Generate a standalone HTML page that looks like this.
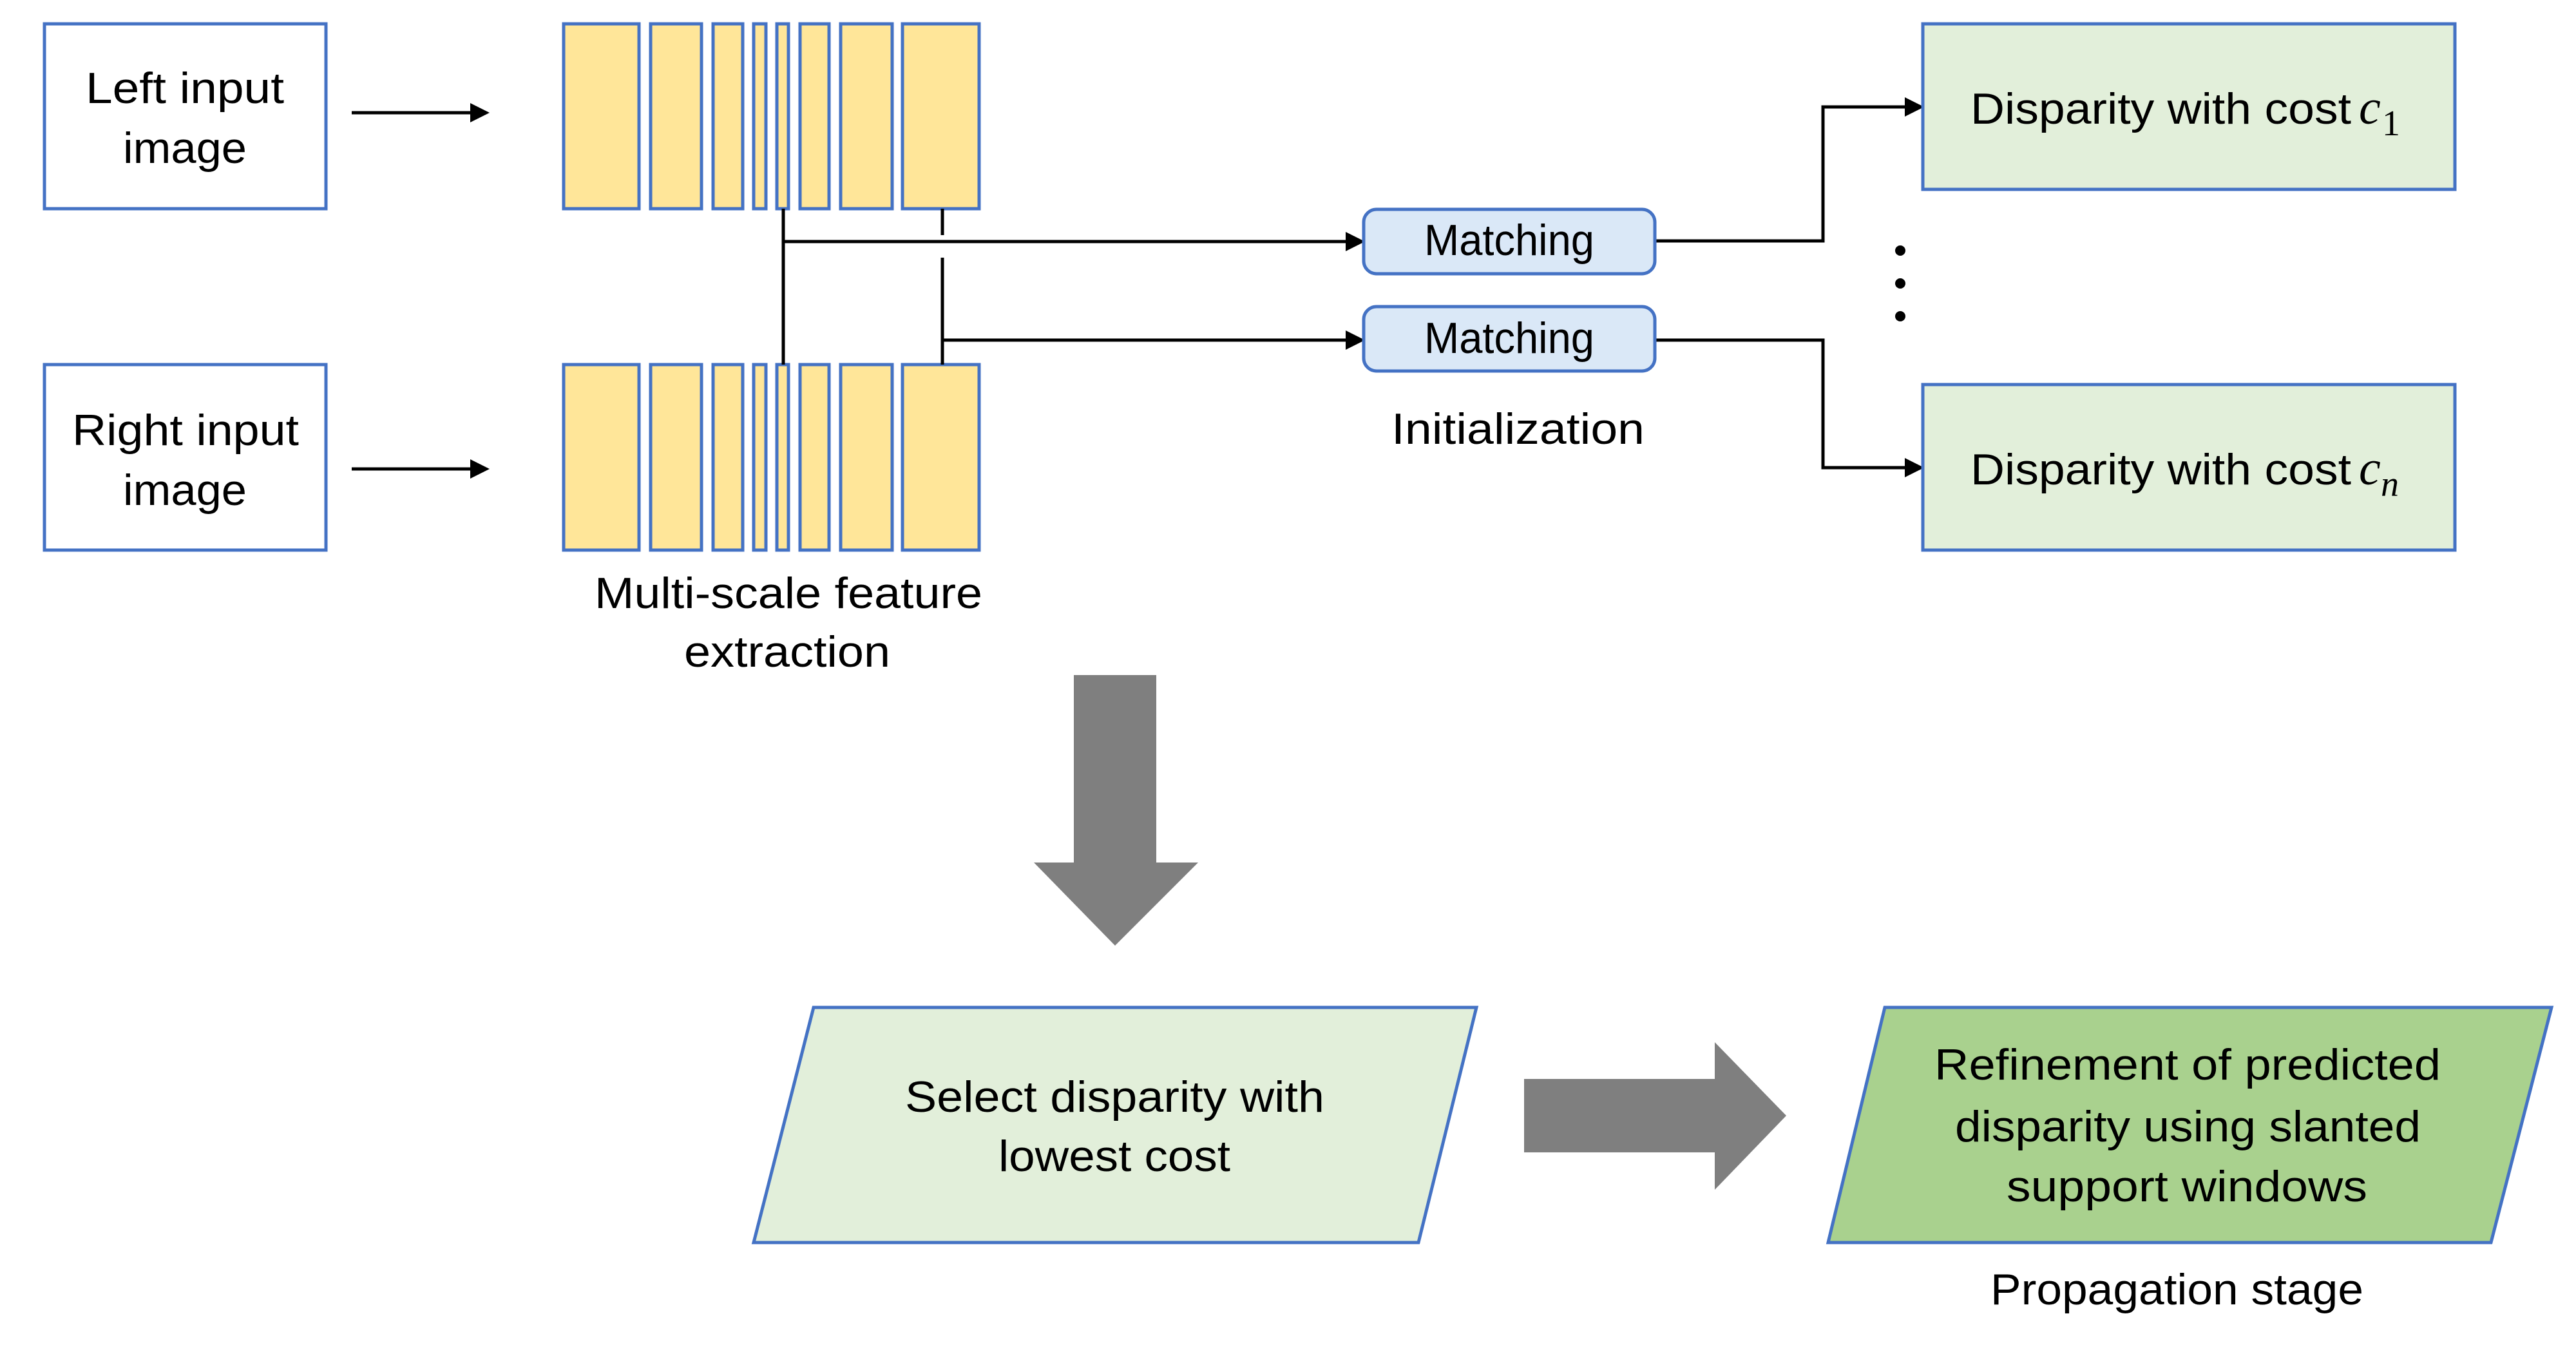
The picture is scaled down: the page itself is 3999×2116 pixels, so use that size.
<!DOCTYPE html>
<html><head><meta charset="utf-8"><style>
html,body{margin:0;padding:0;background:#fff;}
svg{display:block;}
text{font-family:"Liberation Sans",sans-serif;font-size:68px;fill:#000;}
</style></head><body>
<svg width="3999" height="2116" viewBox="0 0 3999 2116" xmlns="http://www.w3.org/2000/svg">
<defs>
<marker id="ah" markerWidth="6" markerHeight="6" refX="5" refY="3" orient="auto" markerUnits="strokeWidth">
<path d="M0,0 L6,3 L0,6 z" fill="#000"/>
</marker>
</defs>
<g fill="#fff" stroke="#4472c4" stroke-width="5">
<rect x="69" y="37" width="437" height="287"/>
<rect x="69" y="566" width="437" height="288"/>
</g>
<g stroke="#000" stroke-width="5" fill="none">
<line x1="546" y1="175" x2="755" y2="175" marker-end="url(#ah)"/>
<line x1="546" y1="728" x2="755" y2="728" marker-end="url(#ah)"/>
</g>
<g fill="#ffe699" stroke="#4472c4" stroke-width="5">
<rect x="875" y="37" width="117" height="287"/>
<rect x="1010" y="37" width="79" height="287"/>
<rect x="1107" y="37" width="46" height="287"/>
<rect x="1170" y="37" width="19" height="287"/>
<rect x="1206" y="37" width="18" height="287"/>
<rect x="1242" y="37" width="45" height="287"/>
<rect x="1305" y="37" width="80" height="287"/>
<rect x="1401" y="37" width="119" height="287"/>
<rect x="875" y="566" width="117" height="288"/>
<rect x="1010" y="566" width="79" height="288"/>
<rect x="1107" y="566" width="46" height="288"/>
<rect x="1170" y="566" width="19" height="288"/>
<rect x="1206" y="566" width="18" height="288"/>
<rect x="1242" y="566" width="45" height="288"/>
<rect x="1305" y="566" width="80" height="288"/>
<rect x="1401" y="566" width="119" height="288"/>
</g>
<g stroke="#000" stroke-width="5" fill="none">
<line x1="1216" y1="324" x2="1216" y2="566"/>
<line x1="1216" y1="375" x2="2114" y2="375" marker-end="url(#ah)"/>
<line x1="1463" y1="324" x2="1463" y2="365"/>
<line x1="1463" y1="400" x2="1463" y2="566"/>
<line x1="1463" y1="528" x2="2114" y2="528" marker-end="url(#ah)"/>
<polyline points="2569,374 2830,374 2830,166 2982,166" marker-end="url(#ah)"/>
<polyline points="2569,528 2830,528 2830,726 2982,726" marker-end="url(#ah)"/>
</g>
<g fill="#dae8f7" stroke="#4472c4" stroke-width="5">
<rect x="2117" y="325" width="452" height="100" rx="20"/>
<rect x="2117" y="476" width="452" height="100" rx="20"/>
</g>
<g fill="#e2efda" stroke="#4472c4" stroke-width="5">
<rect x="2985" y="37" width="826" height="257"/>
<rect x="2985" y="597" width="826" height="257"/>
</g>
<g fill="#000">
<circle cx="2950" cy="389" r="8"/>
<circle cx="2950" cy="440" r="8"/>
<circle cx="2950" cy="491" r="8"/>
</g>
<polygon points="1667,1048 1795,1048 1795,1339 1860,1339 1731,1468 1605,1339 1667,1339" fill="#7f7f7f"/>
<polygon points="2366,1675 2662,1675 2662,1618 2773,1732 2662,1847 2662,1789 2366,1789" fill="#7f7f7f"/>
<polygon points="1263,1564 2292,1564 2202,1929 1170,1929" fill="#e2efda" stroke="#4472c4" stroke-width="5"/>
<polygon points="2926,1564 3961,1564 3867,1929 2838,1929" fill="#a9d18e" stroke="#4472c4" stroke-width="5"/>

<text x="133" y="160" textLength="308" lengthAdjust="spacingAndGlyphs">Left input</text>
<text x="191" y="253" textLength="192" lengthAdjust="spacingAndGlyphs">image</text>
<text x="112" y="691" textLength="352" lengthAdjust="spacingAndGlyphs">Right input</text>
<text x="191" y="784" textLength="192" lengthAdjust="spacingAndGlyphs">image</text>
<text x="923" y="944" textLength="602" lengthAdjust="spacingAndGlyphs">Multi-scale feature</text>
<text x="1062" y="1035" textLength="320" lengthAdjust="spacingAndGlyphs">extraction</text>
<text x="2211" y="396" textLength="264" lengthAdjust="spacingAndGlyphs">Matching</text>
<text x="2211" y="548" textLength="264" lengthAdjust="spacingAndGlyphs">Matching</text>
<text x="2160" y="689" textLength="393" lengthAdjust="spacingAndGlyphs">Initialization</text>
<text x="3059" y="192" textLength="591" lengthAdjust="spacingAndGlyphs">Disparity with cost</text>
<text x="3662" y="192" style="font-family:'Liberation Serif',serif;font-style:italic;font-size:76px">c</text>
<text x="3698" y="210" style="font-family:'Liberation Serif',serif;font-size:56px">1</text>
<text x="3059" y="752" textLength="591" lengthAdjust="spacingAndGlyphs">Disparity with cost</text>
<text x="3662" y="752" style="font-family:'Liberation Serif',serif;font-style:italic;font-size:76px">c</text>
<text x="3696" y="770" style="font-family:'Liberation Serif',serif;font-style:italic;font-size:56px">n</text>
<text x="1405" y="1726" textLength="651" lengthAdjust="spacingAndGlyphs">Select disparity with</text>
<text x="1550" y="1818" textLength="360" lengthAdjust="spacingAndGlyphs">lowest cost</text>
<text x="3003" y="1676" textLength="786" lengthAdjust="spacingAndGlyphs">Refinement of predicted</text>
<text x="3035" y="1772" textLength="723" lengthAdjust="spacingAndGlyphs">disparity using slanted</text>
<text x="3115" y="1865" textLength="560" lengthAdjust="spacingAndGlyphs">support windows</text>
<text x="3090" y="2025" textLength="579" lengthAdjust="spacingAndGlyphs">Propagation stage</text>
</svg>
</body></html>
